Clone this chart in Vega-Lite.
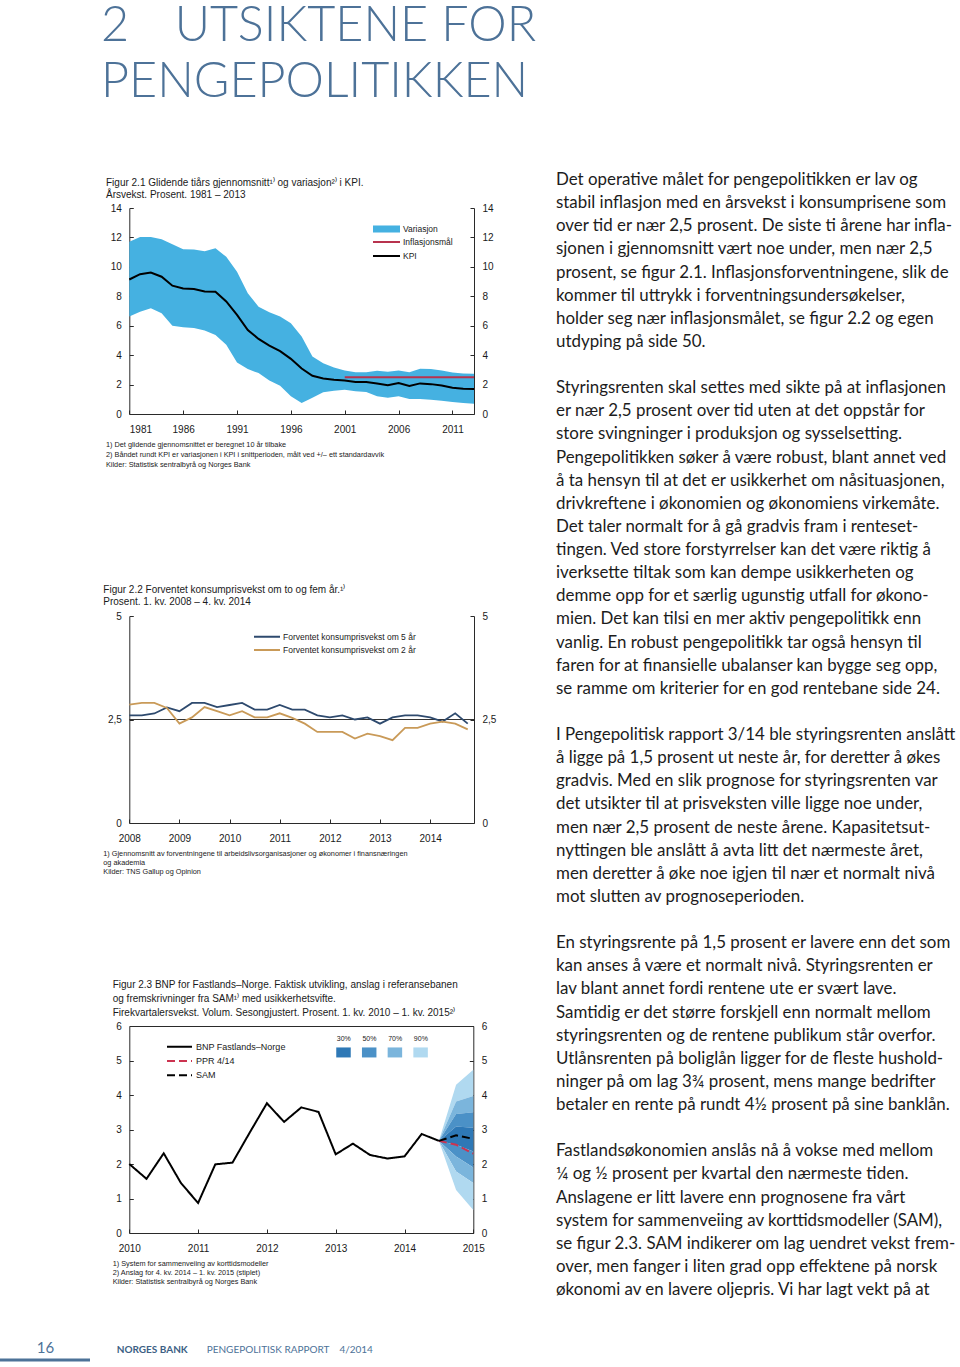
{
  "$schema": "https://vega.github.io/schema/vega-lite/v6.json",
  "width": 960,
  "height": 1367,
  "autosize": {"type": "none"},
  "padding": 0,
  "background": "#ffffff",
  "config": {
    "view": {"stroke": null},
    "axis": {"title": null, "grid": false, "labelFont": "Liberation Sans", "labelFontSize": 10, "labelColor": "#1a1a1a", "domainColor": "#2a2a2a", "domainWidth": 1, "tickColor": "#2a2a2a", "tickSize": -4, "labelPadding": 12, "zindex": 1},
    "legend": {"labelFont": "Liberation Sans", "labelColor": "#1a1a1a", "padding": 0, "labelLimit": 400, "title": null}
  },
  "datasets": {
    "fig1": [
      {"ar": 1981, "kpi": 9.14, "lav": 6.62, "hoy": 11.70},
      {"ar": 1982, "kpi": 9.50, "lav": 6.95, "hoy": 12.03},
      {"ar": 1983, "kpi": 9.62, "lav": 7.18, "hoy": 12.03},
      {"ar": 1984, "kpi": 9.33, "lav": 6.84, "hoy": 11.88},
      {"ar": 1985, "kpi": 8.72, "lav": 6.00, "hoy": 11.54},
      {"ar": 1986, "kpi": 8.53, "lav": 5.89, "hoy": 11.20},
      {"ar": 1987, "kpi": 8.49, "lav": 5.85, "hoy": 11.18},
      {"ar": 1988, "kpi": 8.33, "lav": 5.67, "hoy": 11.06},
      {"ar": 1989, "kpi": 8.31, "lav": 5.37, "hoy": 11.27},
      {"ar": 1990, "kpi": 7.65, "lav": 4.70, "hoy": 10.68},
      {"ar": 1991, "kpi": 6.73, "lav": 3.50, "hoy": 9.66},
      {"ar": 1992, "kpi": 5.71, "lav": 3.05, "hoy": 8.20},
      {"ar": 1993, "kpi": 5.10, "lav": 2.78, "hoy": 7.29},
      {"ar": 1994, "kpi": 4.65, "lav": 2.28, "hoy": 6.91},
      {"ar": 1995, "kpi": 4.27, "lav": 1.92, "hoy": 6.62},
      {"ar": 1996, "kpi": 3.75, "lav": 1.20, "hoy": 6.16},
      {"ar": 1997, "kpi": 3.09, "lav": 0.75, "hoy": 5.26},
      {"ar": 1998, "kpi": 2.60, "lav": 1.10, "hoy": 3.90},
      {"ar": 1999, "kpi": 2.42, "lav": 1.47, "hoy": 3.45},
      {"ar": 2000, "kpi": 2.33, "lav": 1.58, "hoy": 3.16},
      {"ar": 2001, "kpi": 2.28, "lav": 1.65, "hoy": 2.96, "mal": 2.5},
      {"ar": 2002, "kpi": 2.17, "lav": 1.54, "hoy": 2.84, "mal": 2.5},
      {"ar": 2003, "kpi": 2.17, "lav": 1.49, "hoy": 2.84, "mal": 2.5},
      {"ar": 2004, "kpi": 2.08, "lav": 1.20, "hoy": 2.94, "mal": 2.5},
      {"ar": 2005, "kpi": 1.96, "lav": 1.10, "hoy": 2.87, "mal": 2.5},
      {"ar": 2006, "kpi": 2.10, "lav": 1.20, "hoy": 2.96, "mal": 2.5},
      {"ar": 2007, "kpi": 1.90, "lav": 1.02, "hoy": 2.84, "mal": 2.5},
      {"ar": 2008, "kpi": 2.08, "lav": 1.02, "hoy": 3.07, "mal": 2.5},
      {"ar": 2009, "kpi": 2.03, "lav": 0.97, "hoy": 3.05, "mal": 2.5},
      {"ar": 2010, "kpi": 1.94, "lav": 0.90, "hoy": 2.96, "mal": 2.5},
      {"ar": 2011, "kpi": 1.78, "lav": 0.81, "hoy": 2.82, "mal": 2.5},
      {"ar": 2012, "kpi": 1.72, "lav": 0.75, "hoy": 2.75, "mal": 2.5},
      {"ar": 2013, "kpi": 1.70, "lav": 0.70, "hoy": 2.73, "mal": 2.5}
    ],
    "fig2": [
      {"kv": 2008.00, "fem": 2.60, "to": 2.86},
      {"kv": 2008.25, "fem": 2.60, "to": 2.90},
      {"kv": 2008.50, "fem": 2.645, "to": 2.90},
      {"kv": 2008.75, "fem": 2.79, "to": 2.78},
      {"kv": 2009.00, "fem": 2.70, "to": 2.40},
      {"kv": 2009.25, "fem": 2.90, "to": 2.55},
      {"kv": 2009.50, "fem": 2.90, "to": 2.80},
      {"kv": 2009.75, "fem": 2.80, "to": 2.70},
      {"kv": 2010.00, "fem": 2.85, "to": 2.60},
      {"kv": 2010.25, "fem": 2.90, "to": 2.70},
      {"kv": 2010.50, "fem": 2.74, "to": 2.55},
      {"kv": 2010.75, "fem": 2.74, "to": 2.55},
      {"kv": 2011.00, "fem": 2.85, "to": 2.65},
      {"kv": 2011.25, "fem": 2.74, "to": 2.54},
      {"kv": 2011.50, "fem": 2.74, "to": 2.40},
      {"kv": 2011.75, "fem": 2.60, "to": 2.20},
      {"kv": 2012.00, "fem": 2.55, "to": 2.20},
      {"kv": 2012.25, "fem": 2.60, "to": 2.20},
      {"kv": 2012.50, "fem": 2.50, "to": 2.04},
      {"kv": 2012.75, "fem": 2.55, "to": 2.16},
      {"kv": 2013.00, "fem": 2.40, "to": 2.10},
      {"kv": 2013.25, "fem": 2.55, "to": 2.00},
      {"kv": 2013.50, "fem": 2.60, "to": 2.30},
      {"kv": 2013.75, "fem": 2.60, "to": 2.30},
      {"kv": 2014.00, "fem": 2.55, "to": 2.40},
      {"kv": 2014.25, "fem": 2.45, "to": 2.45},
      {"kv": 2014.50, "fem": 2.65, "to": 2.40},
      {"kv": 2014.75, "fem": 2.40, "to": 2.26}
    ],
    "fig3": [
      {"kv": 2010.00, "bnp": 2.00},
      {"kv": 2010.25, "bnp": 1.57},
      {"kv": 2010.50, "bnp": 2.31},
      {"kv": 2010.75, "bnp": 1.45},
      {"kv": 2011.00, "bnp": 0.87},
      {"kv": 2011.25, "bnp": 1.99},
      {"kv": 2011.50, "bnp": 2.04},
      {"kv": 2011.75, "bnp": 2.91},
      {"kv": 2012.00, "bnp": 3.76},
      {"kv": 2012.25, "bnp": 3.22},
      {"kv": 2012.50, "bnp": 3.64},
      {"kv": 2012.75, "bnp": 3.51},
      {"kv": 2013.00, "bnp": 2.28},
      {"kv": 2013.25, "bnp": 2.59},
      {"kv": 2013.50, "bnp": 2.26},
      {"kv": 2013.75, "bnp": 2.16},
      {"kv": 2014.00, "bnp": 2.22},
      {"kv": 2014.25, "bnp": 2.87},
      {"kv": 2014.50, "bnp": 2.67, "ppr": 2.67, "sam": 2.67},
      {"kv": 2014.75, "ppr": 2.56, "sam": 2.83},
      {"kv": 2015.00, "ppr": 2.30, "sam": 2.73}
    ],
    "vifte": [
      {"kv": 2014.5, "band": "90%", "del": "a", "lav": 2.67, "hoy": 2.67},
      {"kv": 2014.5, "band": "70%", "del": "b", "lav": 2.67, "hoy": 2.67},
      {"kv": 2014.5, "band": "50%", "del": "c", "lav": 2.67, "hoy": 2.67},
      {"kv": 2014.5, "band": "30%", "del": "d", "lav": 2.67, "hoy": 2.67},
      {"kv": 2014.5, "band": "50%", "del": "e", "lav": 2.67, "hoy": 2.67},
      {"kv": 2014.5, "band": "70%", "del": "f", "lav": 2.67, "hoy": 2.67},
      {"kv": 2014.5, "band": "90%", "del": "g", "lav": 2.67, "hoy": 2.67},
      {"kv": 2014.75, "band": "90%", "del": "a", "lav": 3.81, "hoy": 4.30},
      {"kv": 2014.75, "band": "70%", "del": "b", "lav": 3.45, "hoy": 3.81},
      {"kv": 2014.75, "band": "50%", "del": "c", "lav": 3.09, "hoy": 3.45},
      {"kv": 2014.75, "band": "30%", "del": "d", "lav": 2.56, "hoy": 3.09},
      {"kv": 2014.75, "band": "50%", "del": "e", "lav": 2.22, "hoy": 2.56},
      {"kv": 2014.75, "band": "70%", "del": "f", "lav": 1.78, "hoy": 2.22},
      {"kv": 2014.75, "band": "90%", "del": "g", "lav": 1.25, "hoy": 1.78},
      {"kv": 2015.0, "band": "90%", "del": "a", "lav": 3.97, "hoy": 4.73},
      {"kv": 2015.0, "band": "70%", "del": "b", "lav": 3.50, "hoy": 3.97},
      {"kv": 2015.0, "band": "50%", "del": "c", "lav": 3.05, "hoy": 3.50},
      {"kv": 2015.0, "band": "30%", "del": "d", "lav": 2.36, "hoy": 3.05},
      {"kv": 2015.0, "band": "50%", "del": "e", "lav": 1.90, "hoy": 2.36},
      {"kv": 2015.0, "band": "70%", "del": "f", "lav": 1.45, "hoy": 1.90},
      {"kv": 2015.0, "band": "90%", "del": "g", "lav": 0.67, "hoy": 1.45}
    ],
    "tekst": [
      {"linje": 0, "tekst": "Det operative målet for pengepolitikken er lav og"},
      {"linje": 1, "tekst": "stabil inflasjon med en årsvekst i konsumprisene som"},
      {"linje": 2, "tekst": "over tid er nær 2,5 prosent. De siste ti årene har infla-"},
      {"linje": 3, "tekst": "sjonen i gjennomsnitt vært noe under, men nær 2,5"},
      {"linje": 4, "tekst": "prosent, se figur 2.1. Inflasjonsforventningene, slik de"},
      {"linje": 5, "tekst": "kommer til uttrykk i forventningsundersøkelser,"},
      {"linje": 6, "tekst": "holder seg nær inflasjonsmålet, se figur 2.2 og egen"},
      {"linje": 7, "tekst": "utdyping på side 50."},
      {"linje": 9, "tekst": "Styringsrenten skal settes med sikte på at inflasjonen"},
      {"linje": 10, "tekst": "er nær 2,5 prosent over tid uten at det oppstår for"},
      {"linje": 11, "tekst": "store svingninger i produksjon og sysselsetting."},
      {"linje": 12, "tekst": "Pengepolitikken søker å være robust, blant annet ved"},
      {"linje": 13, "tekst": "å ta hensyn til at det er usikkerhet om nåsituasjonen,"},
      {"linje": 14, "tekst": "drivkreftene i økonomien og økonomiens virkemåte."},
      {"linje": 15, "tekst": "Det taler normalt for å gå gradvis fram i renteset-"},
      {"linje": 16, "tekst": "tingen. Ved store forstyrrelser kan det være riktig å"},
      {"linje": 17, "tekst": "iverksette tiltak som kan dempe usikkerheten og"},
      {"linje": 18, "tekst": "demme opp for et særlig ugunstig utfall for økono-"},
      {"linje": 19, "tekst": "mien. Det kan tilsi en mer aktiv pengepolitikk enn"},
      {"linje": 20, "tekst": "vanlig. En robust pengepolitikk tar også hensyn til"},
      {"linje": 21, "tekst": "faren for at finansielle ubalanser kan bygge seg opp,"},
      {"linje": 22, "tekst": "se ramme om kriterier for en god rentebane side 24."},
      {"linje": 24, "tekst": "I Pengepolitisk rapport 3/14 ble styringsrenten anslått"},
      {"linje": 25, "tekst": "å ligge på 1,5 prosent ut neste år, for deretter å økes"},
      {"linje": 26, "tekst": "gradvis. Med en slik prognose for styringsrenten var"},
      {"linje": 27, "tekst": "det utsikter til at prisveksten ville ligge noe under,"},
      {"linje": 28, "tekst": "men nær 2,5 prosent de neste årene. Kapasitetsut-"},
      {"linje": 29, "tekst": "nyttingen ble anslått å avta litt det nærmeste året,"},
      {"linje": 30, "tekst": "men deretter å øke noe igjen til nær et normalt nivå"},
      {"linje": 31, "tekst": "mot slutten av prognoseperioden."},
      {"linje": 33, "tekst": "En styringsrente på 1,5 prosent er lavere enn det som"},
      {"linje": 34, "tekst": "kan anses å være et normalt nivå. Styringsrenten er"},
      {"linje": 35, "tekst": "lav blant annet fordi rentene ute er svært lave."},
      {"linje": 36, "tekst": "Samtidig er det større forskjell enn normalt mellom"},
      {"linje": 37, "tekst": "styringsrenten og de rentene publikum står overfor."},
      {"linje": 38, "tekst": "Utlånsrenten på boliglån ligger for de fleste hushold-"},
      {"linje": 39, "tekst": "ninger på om lag 3¾ prosent, mens mange bedrifter"},
      {"linje": 40, "tekst": "betaler en rente på rundt 4½ prosent på sine banklån."},
      {"linje": 42, "tekst": "Fastlandsøkonomien anslås nå å vokse med mellom"},
      {"linje": 43, "tekst": "¼ og ½ prosent per kvartal den nærmeste tiden."},
      {"linje": 44, "tekst": "Anslagene er litt lavere enn prognosene fra vårt"},
      {"linje": 45, "tekst": "system for sammenveiing av korttidsmodeller (SAM),"},
      {"linje": 46, "tekst": "se figur 2.3. SAM indikerer om lag uendret vekst frem-"},
      {"linje": 47, "tekst": "over, men fanger i liten grad opp effektene på norsk"},
      {"linje": 48, "tekst": "økonomi av en lavere oljepris. Vi har lagt vekt på at"}
    ]
  },
  "resolve": {
    "scale": {"x": "independent", "y": "independent", "fill": "independent", "stroke": "independent", "strokeDash": "independent"},
    "axis": {"x": "independent", "y": "independent"},
    "legend": {"fill": "independent", "stroke": "independent", "strokeDash": "independent"}
  },
  "layer": [
    {
      "data": {"name": "fig1"},
      "mark": {"type": "area"},
      "encoding": {
        "x": {"field": "ar", "type": "quantitative", "scale": {"domain": [1981, 2013], "range": [129.3, 474], "nice": false, "zero": false},
              "axis": {"orient": "bottom", "offset": -953, "values": [1981, 1986, 1991, 1996, 2001, 2006, 2011], "format": "d", "labelFlush": true, "labelPadding": 14}},
        "y": {"field": "lav", "type": "quantitative", "scale": {"domain": [0, 14], "range": [414, 208], "nice": false, "zero": false},
              "axis": {"orient": "left", "offset": -129.3, "values": [0, 2, 4, 6, 8, 10, 12, 14], "format": "d"}},
        "y2": {"field": "hoy"},
        "fill": {"datum": "Variasjon", "scale": {"domain": ["Variasjon"], "range": ["#45b1e1"]},
                 "legend": {"orient": "none", "legendX": 372, "legendY": 214.5, "symbolType": "M-1,-0.26H1V0.26H-1Z", "symbolSize": 729, "labelFontSize": 8.5, "labelOffset": 2}}
      }
    },
    {
      "data": {"name": "fig1"},
      "transform": [{"fold": ["mal", "kpi"], "as": ["serie", "verdi"]}, {"filter": "isValid(datum.verdi)"}],
      "mark": {"type": "line", "strokeWidth": 2},
      "encoding": {
        "x": {"field": "ar", "type": "quantitative", "scale": {"domain": [1981, 2013], "range": [129.3, 474], "nice": false, "zero": false}, "axis": null},
        "y": {"field": "verdi", "type": "quantitative", "scale": {"domain": [0, 14], "range": [414, 208], "nice": false, "zero": false},
              "axis": {"orient": "right", "offset": -486, "values": [0, 2, 4, 6, 8, 10, 12, 14], "format": "d"}},
        "stroke": {"field": "serie", "type": "nominal", "scale": {"domain": ["mal", "kpi"], "range": ["#b8334e", "#000000"]},
                   "legend": {"orient": "none", "legendX": 372, "legendY": 237, "clipHeight": 10, "symbolType": "stroke", "symbolSize": 729, "symbolStrokeWidth": 2, "labelFontSize": 8.5, "labelOffset": 2, "rowPadding": 4,
                              "labelExpr": "datum.value == 'kpi' ? 'KPI' : 'Inflasjonsmål'"}}
      }
    },
    {
      "data": {"values": [{}]},
      "mark": {"type": "rule", "color": "#333333", "strokeWidth": 1},
      "encoding": {
        "x": {"datum": 2008, "type": "quantitative", "scale": {"domain": [2008, 2014.875], "range": [129.3, 474], "nice": false, "zero": false}, "axis": null},
        "x2": {"datum": 2014.875},
        "y": {"datum": 2.5, "type": "quantitative", "scale": {"domain": [0, 5], "range": [823, 616], "nice": false, "zero": false},
              "axis": {"orient": "right", "offset": -486, "values": [0, 2.5, 5], "labelExpr": "replace(format(datum.value, '.1~f'), '.', ',')"}}
      }
    },
    {
      "data": {"name": "fig2"},
      "transform": [{"fold": ["fem", "to"], "as": ["serie", "verdi"]}],
      "mark": {"type": "line", "strokeWidth": 1.8},
      "encoding": {
        "x": {"field": "kv", "type": "quantitative", "scale": {"domain": [2008, 2014.875], "range": [129.3, 474], "nice": false, "zero": false},
              "axis": {"orient": "bottom", "offset": -544, "values": [2008, 2009, 2010, 2011, 2012, 2013, 2014], "format": "d", "labelFlush": false, "labelPadding": 14}},
        "y": {"field": "verdi", "type": "quantitative", "scale": {"domain": [0, 5], "range": [823, 616], "nice": false, "zero": false},
              "axis": {"orient": "left", "offset": -129.3, "values": [0, 2.5, 5], "labelExpr": "replace(format(datum.value, '.1~f'), '.', ',')"}},
        "stroke": {"field": "serie", "type": "nominal", "scale": {"domain": ["fem", "to"], "range": ["#2e4a6e", "#c99a58"]},
                   "legend": {"orient": "none", "legendX": 253, "legendY": 631.7, "clipHeight": 10, "symbolType": "stroke", "symbolSize": 676, "symbolStrokeWidth": 2, "labelFontSize": 8.5, "labelOffset": 2, "rowPadding": 3.3,
                              "labelExpr": "datum.value == 'fem' ? 'Forventet konsumprisvekst om 5 år' : 'Forventet konsumprisvekst om 2 år'"}}
      }
    },
    {
      "data": {"name": "vifte"},
      "mark": {"type": "area"},
      "encoding": {
        "x": {"field": "kv", "type": "quantitative", "scale": {"domain": [2010, 2015], "range": [129.3, 473.3], "nice": false, "zero": false},
              "axis": {"orient": "bottom", "offset": -134, "values": [2010, 2011, 2012, 2013, 2014, 2015], "format": "d", "labelFlush": false, "labelPadding": 14}},
        "y": {"field": "lav", "type": "quantitative", "scale": {"domain": [0, 6], "range": [1233, 1026], "nice": false, "zero": false},
              "axis": {"orient": "left", "offset": -129.3, "values": [0, 1, 2, 3, 4, 5, 6], "format": "d"}},
        "y2": {"field": "hoy"},
        "detail": {"field": "del"},
        "fill": {"field": "band", "type": "nominal", "scale": {"domain": ["30%", "50%", "70%", "90%"], "range": ["#2e78b6", "#4b91c7", "#7bb5dc", "#b0d9f0"]},
                 "legend": {"orient": "none", "legendX": 336, "legendY": 1044.7, "direction": "horizontal", "symbolType": "M-1,-0.69H1V0.69H-1Z", "symbolSize": 210, "symbolStrokeWidth": 0,
                            "labelFontSize": 7, "labelAlign": "center", "labelOffset": -7.25, "columnPadding": 10.7,
                            "encode": {"labels": {"update": {"dy": {"value": -13}}}}}}
      }
    },
    {
      "data": {"name": "fig3"},
      "transform": [{"fold": ["bnp", "ppr", "sam"], "as": ["serie", "verdi"]}, {"filter": "isValid(datum.verdi)"}],
      "mark": {"type": "line", "strokeWidth": 2},
      "encoding": {
        "x": {"field": "kv", "type": "quantitative", "scale": {"domain": [2010, 2015], "range": [129.3, 473.3], "nice": false, "zero": false},
              "axis": {"orient": "top", "offset": -1026, "labels": false, "ticks": false}},
        "y": {"field": "verdi", "type": "quantitative", "scale": {"domain": [0, 6], "range": [1233, 1026], "nice": false, "zero": false},
              "axis": {"orient": "right", "offset": -486.7, "values": [0, 1, 2, 3, 4, 5, 6], "format": "d"}},
        "stroke": {"field": "serie", "type": "nominal", "scale": {"domain": ["bnp", "ppr", "sam"], "range": ["#000000", "#cc3350", "#000000"]},
                   "legend": {"orient": "none", "legendX": 166, "legendY": 1041.7, "clipHeight": 10, "symbolType": "stroke", "symbolSize": 625, "symbolStrokeWidth": 2, "labelFontSize": 9, "labelOffset": 3, "rowPadding": 4.3,
                              "labelExpr": "datum.value == 'bnp' ? 'BNP Fastlands–Norge' : datum.value == 'ppr' ? 'PPR 4/14' : 'SAM'"}},
        "strokeDash": {"field": "serie", "type": "nominal", "scale": {"domain": ["bnp", "ppr", "sam"], "range": [[1, 0], [8, 4], [8, 4]]},
                   "legend": {"orient": "none", "legendX": 166, "legendY": 1041.7, "clipHeight": 10, "symbolType": "stroke", "symbolSize": 625, "symbolStrokeWidth": 2, "labelFontSize": 9, "labelOffset": 3, "rowPadding": 4.3,
                              "labelExpr": "datum.value == 'bnp' ? 'BNP Fastlands–Norge' : datum.value == 'ppr' ? 'PPR 4/14' : 'SAM'"}}
      }
    },
    {
      "data": {"values": [{"linje": 0, "tekst": "2\u00a0\u00a0\u00a0\u2009UTSIKTENE FOR"}, {"linje": 1, "tekst": "PENGEPOLITIKKEN"}]},
      "mark": {"type": "text", "align": "left", "baseline": "alphabetic", "font": "Lato", "fontWeight": 300, "fontSize": 48.5, "color": "#4d7298"},
      "encoding": {
        "x": {"datum": 0, "type": "quantitative", "scale": {"domain": [0, 1], "range": [101, 545]}, "axis": null},
        "y": {"field": "linje", "type": "quantitative", "scale": {"domain": [0, 1], "range": [41, 97]}, "axis": null},
        "text": {"field": "tekst"}
      }
    },
    {
      "data": {"values": [{"linje": 0, "tekst": "Figur 2.1 Glidende tiårs gjennomsnitt¹⁾ og variasjon²⁾ i KPI."}, {"linje": 1, "tekst": "Årsvekst. Prosent. 1981 – 2013"}]},
      "mark": {"type": "text", "align": "left", "baseline": "alphabetic", "font": "Liberation Sans", "fontSize": 10, "color": "#1a1a1a"},
      "encoding": {
        "x": {"datum": 0, "type": "quantitative", "scale": {"domain": [0, 1], "range": [106, 480]}, "axis": null},
        "y": {"field": "linje", "type": "quantitative", "scale": {"domain": [0, 1], "range": [186, 197.5]}, "axis": null},
        "text": {"field": "tekst"}
      }
    },
    {
      "data": {"values": [{"linje": 0, "tekst": "1) Det glidende gjennomsnittet er beregnet 10 år tilbake"}, {"linje": 1, "tekst": "2) Båndet rundt KPI er variasjonen i KPI i snittperioden, målt ved +/– ett standardavvik"}, {"linje": 2, "tekst": "Kilder: Statistisk sentralbyrå og Norges Bank"}]},
      "mark": {"type": "text", "align": "left", "baseline": "alphabetic", "font": "Liberation Sans", "fontSize": 7.3, "color": "#1a1a1a"},
      "encoding": {
        "x": {"datum": 0, "type": "quantitative", "scale": {"domain": [0, 1], "range": [106, 480]}, "axis": null},
        "y": {"field": "linje", "type": "quantitative", "scale": {"domain": [0, 2], "range": [447, 466.5]}, "axis": null},
        "text": {"field": "tekst"}
      }
    },
    {
      "data": {"values": [{"linje": 0, "tekst": "Figur 2.2 Forventet konsumprisvekst om to og fem år.¹⁾"}, {"linje": 1, "tekst": "Prosent. 1. kv. 2008 – 4. kv. 2014"}]},
      "mark": {"type": "text", "align": "left", "baseline": "alphabetic", "font": "Liberation Sans", "fontSize": 10, "color": "#1a1a1a"},
      "encoding": {
        "x": {"datum": 0, "type": "quantitative", "scale": {"domain": [0, 1], "range": [103.3, 480]}, "axis": null},
        "y": {"field": "linje", "type": "quantitative", "scale": {"domain": [0, 1], "range": [593.3, 605]}, "axis": null},
        "text": {"field": "tekst"}
      }
    },
    {
      "data": {"values": [{"linje": 0, "tekst": "1) Gjennomsnitt av forventningene til arbeidslivsorganisasjoner og økonomer i finansnæringen"}, {"linje": 1, "tekst": "og akademia"}, {"linje": 2, "tekst": "Kilder: TNS Gallup og Opinion"}]},
      "mark": {"type": "text", "align": "left", "baseline": "alphabetic", "font": "Liberation Sans", "fontSize": 7.3, "color": "#1a1a1a"},
      "encoding": {
        "x": {"datum": 0, "type": "quantitative", "scale": {"domain": [0, 1], "range": [103.3, 480]}, "axis": null},
        "y": {"field": "linje", "type": "quantitative", "scale": {"domain": [0, 2], "range": [856, 874]}, "axis": null},
        "text": {"field": "tekst"}
      }
    },
    {
      "data": {"values": [{"linje": 0, "tekst": "Figur 2.3 BNP for Fastlands–Norge. Faktisk utvikling, anslag i referansebanen"}, {"linje": 1, "tekst": "og fremskrivninger fra SAM¹⁾ med usikkerhetsvifte."}, {"linje": 2, "tekst": "Firekvartalersvekst. Volum. Sesongjustert. Prosent. 1. kv. 2010 – 1. kv. 2015²⁾"}]},
      "mark": {"type": "text", "align": "left", "baseline": "alphabetic", "font": "Liberation Sans", "fontSize": 10, "color": "#1a1a1a"},
      "encoding": {
        "x": {"datum": 0, "type": "quantitative", "scale": {"domain": [0, 1], "range": [112.7, 480]}, "axis": null},
        "y": {"field": "linje", "type": "quantitative", "scale": {"domain": [0, 2], "range": [988.3, 1015.7]}, "axis": null},
        "text": {"field": "tekst"}
      }
    },
    {
      "data": {"values": [{"linje": 0, "tekst": "1) System for sammenveiing av korttidsmodeller"}, {"linje": 1, "tekst": "2) Anslag for 4. kv. 2014 – 1. kv. 2015 (stiplet)"}, {"linje": 2, "tekst": "Kilder: Statistisk sentralbyrå og Norges Bank"}]},
      "mark": {"type": "text", "align": "left", "baseline": "alphabetic", "font": "Liberation Sans", "fontSize": 7.3, "color": "#1a1a1a"},
      "encoding": {
        "x": {"datum": 0, "type": "quantitative", "scale": {"domain": [0, 1], "range": [112.7, 480]}, "axis": null},
        "y": {"field": "linje", "type": "quantitative", "scale": {"domain": [0, 2], "range": [1266, 1284.3]}, "axis": null},
        "text": {"field": "tekst"}
      }
    },
    {
      "data": {"name": "tekst"},
      "mark": {"type": "text", "align": "left", "baseline": "alphabetic", "font": "Lato", "fontSize": 16.9, "color": "#1c1c1c"},
      "encoding": {
        "x": {"datum": 0, "type": "quantitative", "scale": {"domain": [0, 1], "range": [556, 958]}, "axis": null},
        "y": {"field": "linje", "type": "quantitative", "scale": {"domain": [0, 48], "range": [185, 1295]}, "axis": null},
        "text": {"field": "tekst"}
      }
    },
    {
      "data": {"values": [{}]},
      "mark": {"type": "rule", "color": "#4d7298", "strokeWidth": 3},
      "encoding": {
        "x": {"datum": 0, "type": "quantitative", "scale": {"domain": [0, 1], "range": [0, 90]}, "axis": null},
        "x2": {"datum": 1},
        "y": {"datum": 0, "type": "quantitative", "scale": {"domain": [0, 1], "range": [1360, 1361]}, "axis": null}
      }
    },
    {
      "data": {"values": [{"tekst": "16"}]},
      "mark": {"type": "text", "align": "left", "baseline": "alphabetic", "font": "Lato", "fontSize": 15, "color": "#4d7298"},
      "encoding": {
        "x": {"datum": 0, "type": "quantitative", "scale": {"domain": [0, 1], "range": [36.7, 60]}, "axis": null},
        "y": {"datum": 0, "type": "quantitative", "scale": {"domain": [0, 1], "range": [1353.3, 1354]}, "axis": null},
        "text": {"field": "tekst"}
      }
    },
    {
      "data": {"values": [{"tekst": "NORGES BANK"}]},
      "mark": {"type": "text", "align": "left", "baseline": "alphabetic", "font": "Lato", "fontWeight": "bold", "fontSize": 10, "color": "#3d5f85"},
      "encoding": {
        "x": {"datum": 0, "type": "quantitative", "scale": {"domain": [0, 1], "range": [116.7, 200]}, "axis": null},
        "y": {"datum": 0, "type": "quantitative", "scale": {"domain": [0, 1], "range": [1352.7, 1353]}, "axis": null},
        "text": {"field": "tekst"}
      }
    },
    {
      "data": {"values": [{"tekst": "PENGEPOLITISK RAPPORT\u00a0\u00a0\u00a0\u00a04/2014"}]},
      "mark": {"type": "text", "align": "left", "baseline": "alphabetic", "font": "Lato", "fontSize": 10, "color": "#4d7298"},
      "encoding": {
        "x": {"datum": 0, "type": "quantitative", "scale": {"domain": [0, 1], "range": [206.7, 400]}, "axis": null},
        "y": {"datum": 0, "type": "quantitative", "scale": {"domain": [0, 1], "range": [1352.7, 1353]}, "axis": null},
        "text": {"field": "tekst"}
      }
    }
  ]
}
